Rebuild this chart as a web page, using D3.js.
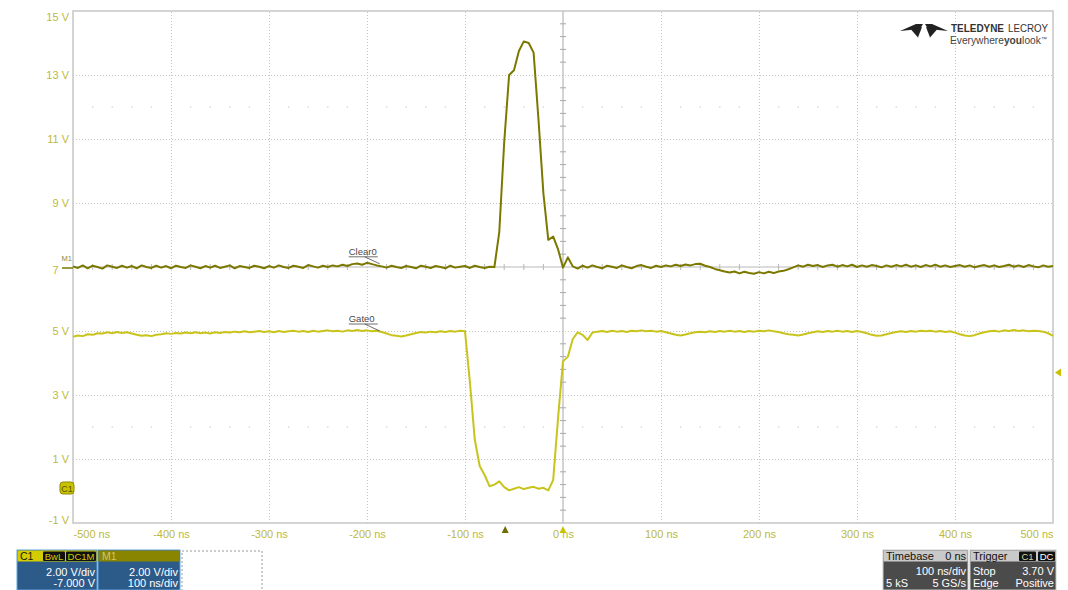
<!DOCTYPE html>
<html><head><meta charset="utf-8">
<script src="https://cdn.jsdelivr.net/npm/d3@7"></script>
<style>
body{margin:0;background:#fff}
svg{display:block;font-family:"Liberation Sans",Arial,sans-serif}
</style>
</head><body>
<svg id="c" width="1068" height="590"></svg>
<script>
// ---------- data ----------
const timeTicks = [-500,-400,-300,-200,-100,0,100,200,300,400,500];
const timeLabels = ["-500 ns","-400 ns","-300 ns","-200 ns","-100 ns","0 ns","100 ns","200 ns","300 ns","400 ns","500 ns"];
const voltTicks = [-1,1,3,5,7,9,11,13,15];
const voltLabels = ["-1 V","1 V","3 V","5 V","7 V","9 V","11 V","13 V","15 V"];
const sampleStart = -500;   // ns
const sampleStep = 5;       // ns
// M1 "Clear0" trace, volts
const clearVolts = [
7.02,6.97,7.05,6.96,7.04,7.0,6.95,7.05,7.01,6.97,
7.04,6.98,7.03,6.96,7.05,7.0,6.97,7.04,6.98,7.03,
6.96,7.04,7.0,6.97,7.05,7.01,6.96,7.03,6.98,7.04,
6.97,7.01,7.05,6.96,7.03,7.0,6.97,7.04,7.01,6.96,
7.03,6.98,7.05,7.0,6.97,7.04,7.01,6.97,7.06,7.02,
6.98,7.04,7.0,7.05,7.02,7.07,7.03,7.09,7.11,7.07,
7.13,7.09,7.05,7.02,6.98,7.04,7.0,6.97,7.03,7.0,
6.96,7.04,7.01,6.97,7.03,7.0,6.96,7.04,6.98,7.01,
7.03,6.97,7.04,7.0,6.97,7.01,
7.0,8.1,10.9,13.0,13.15,13.75,14.05,14.0,13.7,11.6,9.3,7.85,7.95,7.55,6.98,7.3,7.02,6.95,
7.04,6.98,7.05,7.0,6.96,7.04,7.01,6.97,7.05,7.0,
6.96,7.03,7.06,7.01,6.97,7.04,7.0,7.05,7.02,7.07,
7.03,7.08,7.05,7.09,
7.1,7.04,7.0,6.94,6.9,6.86,
6.83,6.86,6.80,6.85,6.81,6.79,6.84,6.80,6.85,6.81,6.86,
6.88,6.93,6.99,
7.05,7.01,7.07,7.03,7.06,7.0,7.05,7.07,7.01,7.06,
7.02,7.07,7.0,7.05,7.01,7.06,7.03,6.99,7.05,7.01,
7.06,7.02,7.07,7.01,7.05,7.0,7.06,7.02,7.07,7.01,
7.05,7.0,7.03,7.06,7.01,7.05,6.99,7.03,7.06,7.01,
7.05,7.0,7.03,7.07,7.01,7.05,7.0,7.06,7.02,6.99,
7.05,7.01,7.03
];
// C1 "Gate0" trace, volts
const gateVolts = [
4.82,4.86,4.84,4.9,4.88,4.93,4.92,4.96,4.93,4.97,
4.94,4.96,4.92,4.88,4.85,4.87,4.84,4.88,4.9,4.93,
4.91,4.94,4.92,4.95,4.93,4.96,4.93,4.95,4.92,4.96,
4.94,4.97,4.95,4.98,4.96,4.99,4.96,4.98,5.0,4.97,
4.99,4.96,5.0,4.97,4.99,5.01,4.98,5.0,4.97,5.01,
4.98,5.0,5.02,4.99,5.01,4.98,5.02,5.0,5.03,5.0,
5.02,4.99,5.01,4.97,4.92,4.87,4.85,4.83,4.86,4.9,
4.94,4.97,4.95,4.98,4.96,4.99,4.97,5.0,4.98,5.01,
4.99,
3.4,1.6,0.78,0.5,0.15,0.2,0.3,0.12,0.02,0.07,0.12,0.06,0.1,0.13,0.07,0.1,0.02,0.35,2.3,4.05,4.2,4.75,4.96,4.88,4.72,4.95,
4.98,5.0,4.97,5.01,4.98,5.0,4.97,5.01,4.99,5.02,
4.99,5.01,4.98,5.0,4.96,4.92,4.88,4.86,4.89,4.93,
4.96,4.98,4.96,4.99,4.97,5.0,4.98,5.01,4.98,5.0,
4.97,5.0,4.98,5.01,4.99,5.02,4.99,4.97,4.93,4.9,
4.88,4.86,4.89,4.93,4.96,4.99,4.97,5.0,4.98,5.01,
4.98,5.0,4.97,5.0,4.97,4.93,4.88,4.85,4.86,4.9,
4.94,4.97,4.99,4.97,5.0,4.98,5.01,4.99,5.01,4.98,
5.0,4.97,4.99,4.95,4.9,4.86,4.84,4.87,4.92,4.96,
4.99,5.01,4.98,5.02,5.0,5.03,5.0,5.02,4.99,5.01,
5.0,4.98,4.93,4.85
];
const traceNames = ["Clear0","Gate0"];
const traceLabelTime = -187;
const traceLabelVolts = [7.1, 5.0];
const triggerLevel = 3.70;     // V
const triggerTime = 0;         // ns
const m1Offset = -59;          // ns marker of M1 trace
const c1Ground = 0;            // V
const m1Level = 7;             // V

// ---------- layout ----------
const svg = d3.select("#c");
const L = 73, R = 1053, T = 11, B = 523;
const x = d3.scaleLinear().domain([-500,500]).range([L,R]);
const y = d3.scaleLinear().domain([-1,15]).range([B,T]);
const gold = "#bdb93c";
const gridC = "#c4c4c4";
const clearC = "#7b7800";
const gateC = "#c9c41c";

// grid
const gx = svg.append("g").attr("transform",`translate(0,${B})`)
  .call(d3.axisBottom(x).tickValues(timeTicks.filter(t=>t!==0 && t!==-500 && t!==500)).tickSize(-(B-T)).tickFormat(""));
gx.select(".domain").remove();
gx.selectAll("line").attr("stroke",gridC).attr("stroke-dasharray","1,2");
const gy = svg.append("g").attr("transform",`translate(${L},0)`)
  .call(d3.axisLeft(y).tickValues(voltTicks.filter(v=>v!==7 && v!==-1 && v!==15)).tickSize(-(R-L)).tickFormat(""));
gy.select(".domain").remove();
gy.selectAll("line").attr("stroke",gridC).attr("stroke-dasharray","1,2");

// dotted rows of marks
const subT = d3.range(-480,500,20).filter(t=>t%100!==0);
[12,2].forEach(v=>{
  svg.append("g").selectAll("rect").data(subT).join("rect")
    .attr("x",d=>x(d)-0.6).attr("y",y(v)-0.6).attr("width",1.3).attr("height",1.3).attr("fill","#cfcfcf");
});

// center crosshair
svg.append("line").attr("x1",x(0)).attr("x2",x(0)).attr("y1",T).attr("y2",B).attr("stroke","#a8a8a8").attr("stroke-width",1);
svg.append("line").attr("x1",L).attr("x2",R).attr("y1",y(7)).attr("y2",y(7)).attr("stroke","#b8b8b8").attr("stroke-width",1);
const subV = d3.range(-0.6,15,0.4).filter(v=>Math.abs((v+1)%2)>0.05 && Math.abs((v+1)%2-2)>0.05);
svg.append("g").selectAll("line").data(subV).join("line")
  .attr("x1",x(0)-3).attr("x2",x(0)+3).attr("y1",d=>y(d)).attr("y2",d=>y(d)).attr("stroke","#a8a8a8");
svg.append("g").selectAll("line").data(subT).join("line")
  .attr("x1",d=>x(d)).attr("x2",d=>x(d)).attr("y1",y(7)-3).attr("y2",y(7)+3).attr("stroke","#b8b8b8");

// border
svg.append("rect").attr("x",L).attr("y",T).attr("width",R-L).attr("height",B-T)
  .attr("fill","none").attr("stroke","#c6c6c6").attr("stroke-width",1.5);

// traces
const line = d3.line().x((d,i)=>x(sampleStart+i*sampleStep)).y(d=>y(d));
svg.append("path").datum(gateVolts).attr("d",line).attr("fill","none").attr("stroke",gateC).attr("stroke-width",2).attr("stroke-linejoin","round");
svg.append("path").datum(clearVolts).attr("d",line).attr("fill","none").attr("stroke",clearC).attr("stroke-width",2).attr("stroke-linejoin","round");

// axis labels
const ax = svg.append("g").attr("transform",`translate(0,${B})`)
  .call(d3.axisBottom(x).tickValues(timeTicks).tickSize(0).tickPadding(7).tickFormat((d,i)=>timeLabels[i]));
ax.select(".domain").remove();
ax.selectAll("text").attr("fill",gold).attr("font-size",11).attr("font-family","Liberation Sans, Arial, sans-serif")
  .attr("text-anchor",(d)=>d===-500?"start":(d===500?"end":"middle"));
const ay = svg.append("g").attr("transform",`translate(${L},0)`)
  .call(d3.axisLeft(y).tickValues(voltTicks).tickSize(0).tickPadding(4).tickFormat((d,i)=>voltLabels[i]));
ay.select(".domain").remove();
ay.selectAll("text").attr("fill",gold).attr("font-size",11).attr("font-family","Liberation Sans, Arial, sans-serif")
  .attr("transform",d=>d===15?"translate(0,6)":(d===-1?"translate(0,-3)":(d===7?"translate(0,3)":null)));

// M1 marker (covers the end of the 7 V label, as on the scope)
svg.append("rect").attr("x",61).attr("y",y(m1Level)-9).attr("width",11).attr("height",18).attr("fill","#fff");
svg.append("text").attr("x",61.5).attr("y",y(m1Level)-6).text("M1").attr("font-size",7.5).attr("fill","#8d8a3a");
svg.append("path").attr("d",`M${62},${y(m1Level)+1}L${L},${y(m1Level)+1}`).attr("stroke",clearC).attr("stroke-width",1.5);

// C1 ground badge
const gy0 = y(c1Ground)-3;
svg.append("rect").attr("x",60).attr("y",gy0-6).attr("width",14).attr("height",12).attr("rx",3)
  .attr("fill","#c8c200").attr("stroke","#8d8900").attr("stroke-width",1);
svg.append("text").attr("x",67).attr("y",gy0+3.5).attr("text-anchor","middle").text("C1")
  .attr("font-size",9).attr("fill","#5a5600");

// trace labels
traceNames.forEach((n,i)=>{
  const px = x(traceLabelTime), py = y(traceLabelVolts[i]);
  const tx = px-31, ty = py-9;
  svg.append("text").attr("x",tx).attr("y",ty).text(n).attr("font-size",9.5).attr("fill","#4a4a4a");
  svg.append("line").attr("x1",tx).attr("x2",tx+29).attr("y1",ty+2).attr("y2",ty+2).attr("stroke","#4a4a4a").attr("stroke-width",0.8);
  svg.append("line").attr("x1",px-15).attr("x2",px).attr("y1",ty+2).attr("y2",py).attr("stroke","#4a4a4a").attr("stroke-width",0.8);
});

// bottom triangles
const tri = (cx,cy)=>`M${cx-3.5},${cy+4}L${cx+3.5},${cy+4}L${cx},${cy-3}Z`;
svg.append("path").attr("d",tri(x(m1Offset),529)).attr("fill","#6f6c00");
svg.append("path").attr("d",tri(x(triggerTime),529)).attr("fill","#c8c200");
// trigger level triangle
const ty3 = y(triggerLevel);
svg.append("path").attr("d",`M${R+2},${ty3}L${R+8},${ty3-4}L${R+8},${ty3+4}Z`).attr("fill","#c8c200");

// logo
const lg = svg.append("g").attr("transform","translate(900,23)").attr("fill","#222");
lg.append("path").attr("d","M0,8 L16,1 L23,1 L20,6 Z");
lg.append("path").attr("d","M48,8 L32,1 L25,1 L28,6 Z");
lg.append("path").attr("d","M11,6.5 L22,4 L18,14.5 Z");
lg.append("path").attr("d","M37,6.5 L26,4 L30,14.5 Z");
svg.append("text").attr("x",951).attr("y",32).attr("font-size",11).attr("font-weight","bold").attr("fill","#333")
  .attr("textLength",53).attr("lengthAdjust","spacingAndGlyphs").text("TELEDYNE");
svg.append("text").attr("x",1008).attr("y",32).attr("font-size",11).attr("fill","#333")
  .attr("textLength",40).attr("lengthAdjust","spacingAndGlyphs").text("LECROY");
const t2 = svg.append("text").attr("x",950).attr("y",44).attr("font-size",10).attr("fill","#444")
  .attr("textLength",97).attr("lengthAdjust","spacingAndGlyphs");
t2.append("tspan").text("Everywhere");
t2.append("tspan").attr("font-weight","bold").text("you");
t2.append("tspan").text("look");
t2.append("tspan").attr("font-size",6).attr("dy",-3).text("™");

// bottom info boxes
function box(x0,w,head,headFill,bodyFill,border){
  const g = svg.append("g");
  g.append("rect").attr("x",x0).attr("y",550).attr("width",w).attr("height",40).attr("fill",bodyFill).attr("stroke",border).attr("stroke-width",1);
  g.append("rect").attr("x",x0+0.5).attr("y",550.5).attr("width",w-1).attr("height",11).attr("fill",headFill);
  return g;
}
function txt(g,x0,y0,s,fill,anchor,fs){
  g.append("text").attr("x",x0).attr("y",y0).text(s).attr("fill",fill).attr("font-size",fs||11).attr("text-anchor",anchor||"start");
}
function badge(g,x0,w,s,fill){
  g.append("rect").attr("x",x0).attr("y",551.5).attr("width",w).attr("height",9.5).attr("fill","#111").attr("rx",1);
  txt(g,x0+w/2,560,s,fill,"middle",9.5);
}
const bC1 = box(17,80,"C1","#d2cc00","#2c5b8a","#5fa3dd");
txt(bC1,20,560,"C1","#1a1a00","start",10.5);
badge(bC1,43,22,"BwL","#d2cc00");
badge(bC1,66,30,"DC1M","#d2cc00");
txt(bC1,95,576,"2.00 V/div","#fff","end");
txt(bC1,95,587,"-7.000 V","#fff","end");
const bM1 = box(98,82,"M1","#8a8500","#2c5b8a","#5fa3dd");
txt(bM1,102,560,"M1","#cfc670","start",10.5);
txt(bM1,178,576,"2.00 V/div","#fff","end");
txt(bM1,178,587,"100 ns/div","#fff","end");
svg.append("rect").attr("x",182).attr("y",551).attr("width",80).attr("height",40).attr("fill","none")
  .attr("stroke","#999").attr("stroke-dasharray","2,2");

const bTB = box(883,85,"Timebase","#c9c9c9","#4b4b4b","#c9c9c9");
txt(bTB,886,560,"Timebase","#111");
txt(bTB,966,560,"0 ns","#111","end");
txt(bTB,966,575,"100 ns/div","#fff","end");
txt(bTB,886,587,"5 kS","#fff");
txt(bTB,966,587,"5 GS/s","#fff","end");
const bTr = box(970,86,"Trigger","#c9c9c9","#4b4b4b","#c9c9c9");
txt(bTr,973,560,"Trigger","#111");
badge(bTr,1019,17,"C1","#d8d8a0");
badge(bTr,1038,17,"DC","#fff");
txt(bTr,973,575,"Stop","#fff");
txt(bTr,1054,575,"3.70 V","#fff","end");
txt(bTr,973,587,"Edge","#fff");
txt(bTr,1054,587,"Positive","#fff","end");
</script>
</body></html>
